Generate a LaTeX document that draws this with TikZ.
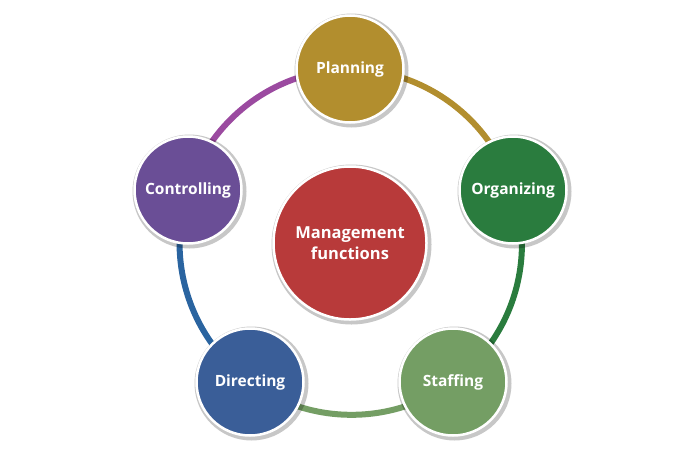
\documentclass[tikz,border=0pt]{standalone}
\usepackage{fontspec}
\setmainfont{Open Sans}
\usetikzlibrary{positioning,backgrounds}
\definecolor{plangold}{RGB}{178,142,46}
\definecolor{orggreen}{RGB}{42,124,62}
\definecolor{stafgreen}{RGB}{116,158,100}
\definecolor{dirblue}{RGB}{58,94,152}
\definecolor{ctrlpurple}{RGB}{106,78,150}
\definecolor{mgmtred}{RGB}{184,58,58}
\definecolor{arcpurple}{RGB}{155,74,160}
\definecolor{arcblue}{RGB}{42,100,160}
\tikzset{
  func/.style={circle,draw=white,line width=2.5pt,minimum size=107pt,inner sep=0pt,
    text=white,font=\fontsize{15.5}{19}\selectfont\bfseries},
  hub/.style={func,minimum size=153pt,align=center,font=\fontsize{16.5}{21}\selectfont\bfseries},
  glow/.style={fill=black,fill opacity=0.22},
  ring/.style={line width=6pt,bend left=36,looseness=0.94}
}
\begin{document}
\begin{tikzpicture}[x=1pt,y=-1pt]
\useasboundingbox (0,0) rectangle (700,450);

% soft shadows
\fill[glow] (351.5,70.5) circle (57);
\fill[glow] (514.5,191.5) circle (57);
\fill[glow] (454.5,383.5) circle (57);
\fill[glow] (251.5,383.5) circle (57);
\fill[glow] (189.5,191.5) circle (57);
\fill[glow] (351.5,244.5) circle (80);

% functions
\node[func,fill=plangold] (planning) at (350,69) {Planning};
\node[func,fill=orggreen] (organizing) at (513,190) {Organizing};
\node[func,fill=stafgreen] (staffing) at (453,382) {Staffing};
\node[func,fill=dirblue] (directing) at (250,382) {Directing};
\node[func,fill=ctrlpurple] (controlling) at (188,190) {Controlling};
\node[hub,fill=mgmtred] (mgmt) at (350,243) {Management\\functions};

% ring
\begin{scope}[on background layer]
\draw[ring,plangold] (planning.center) to (organizing.center);
\draw[ring,orggreen] (organizing.center) to (staffing.center);
\draw[ring,stafgreen] (staffing.center) to (directing.center);
\draw[ring,arcblue] (directing.center) to (controlling.center);
\draw[ring,arcpurple] (controlling.center) to (planning.center);
\end{scope}

\end{tikzpicture}
\end{document}
